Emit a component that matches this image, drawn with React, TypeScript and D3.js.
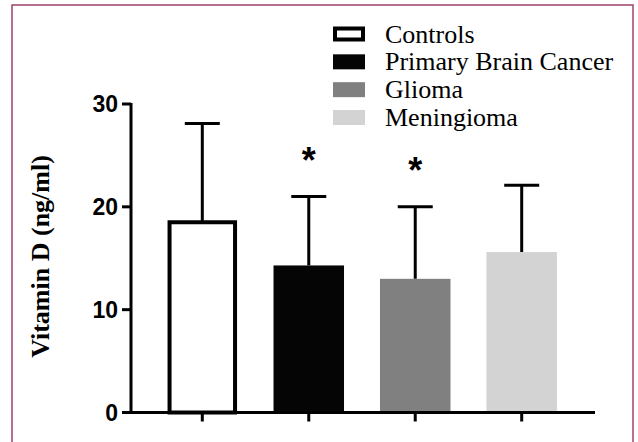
import React from "react";
import * as d3 from "d3";

const categories = ["Controls", "Primary Brain Cancer", "Glioma", "Meningioma"];
const means = [18.5, 14.3, 13.0, 15.6];
const sds = [9.6, 6.7, 7.0, 6.5];
const significant = [false, true, true, false];
const fills = ["#ffffff", "#050505", "#808080", "#d3d3d3"];
const yTicks = [0, 10, 20, 30];
const yLabel = "Vitamin D (ng/ml)";

const W = 638;
const H = 442;

export default function App() {
  const y = d3.scaleLinear().domain([0, 30]).range([412.5, 104]);
  const x = d3.scalePoint<string>().domain(categories).range([202.3, 521.7]);
  const barW = 70.5;
  const capW = 35;
  const axisX = 131;
  const axisEnd = 595;
  const legendY = d3.scalePoint<string>().domain(categories).range([34, 117.5]);

  return (
    <svg width={W} height={H} style={{ position: "absolute", left: 0, top: 0, display: "block", background: "#fff" }}>
      <rect x={12} y={5} width={621} height={470} fill="none" stroke="#a1426d" strokeWidth={1.5} />

      {/* bars */}
      {categories.map((c, i) => {
        const cx = x(c)!;
        const top = y(means[i]);
        const capY = y(means[i] + sds[i]);
        const isOutline = i === 0;
        return (
          <g key={c}>
            <line x1={cx} x2={cx} y1={top} y2={capY} stroke="#000" strokeWidth={3} />
            <line x1={cx - capW / 2} x2={cx + capW / 2} y1={capY} y2={capY} stroke="#000" strokeWidth={3} />
            {isOutline ? (
              <rect x={cx - barW / 2 + 2.5} y={top} width={barW - 5} height={y(0) - top} fill={fills[i]} stroke="#000" strokeWidth={4} />
            ) : (
              <rect x={cx - barW / 2} y={top} width={barW} height={y(0) - top} fill={fills[i]} />
            )}
            {significant[i] && (
              <text x={cx} y={capY - 24} textAnchor="middle" fontFamily="Liberation Sans, Arial, sans-serif" fontWeight="bold" fontSize={36}>*</text>
            )}
          </g>
        );
      })}

      {/* y axis */}
      <line x1={axisX} x2={axisX} y1={y(30) - 1} y2={y(0) + 1.5} stroke="#000" strokeWidth={3} />
      {yTicks.map((t) => (
        <g key={t}>
          <line x1={axisX - 9} x2={axisX} y1={y(t)} y2={y(t)} stroke="#000" strokeWidth={3} />
          <text x={118} y={y(t)} dy="0.36em" textAnchor="end" fontFamily="Liberation Sans, Arial, sans-serif" fontWeight="bold" fontSize={23}>{t}</text>
        </g>
      ))}
      {/* x axis */}
      <line x1={axisX - 1.5} x2={axisEnd} y1={y(0)} y2={y(0)} stroke="#000" strokeWidth={3} />
      {categories.map((c) => (
        <line key={c} x1={x(c)!} x2={x(c)!} y1={y(0)} y2={y(0) + 9} stroke="#000" strokeWidth={3} />
      ))}

      {/* y label */}
      <text transform={`translate(49,${(155 + 358) / 2}) rotate(-90)`} textAnchor="middle" fontFamily="Liberation Serif, Times New Roman, serif" fontWeight="bold" fontSize={26}>{yLabel}</text>

      {/* legend */}
      {categories.map((c, i) => {
        const cy = legendY(c)!;
        return (
          <g key={c}>
            {i === 0 ? (
              <rect x={335} y={cy - 5.5} width={28} height={11} fill="#fff" stroke="#000" strokeWidth={4} />
            ) : (
              <rect x={333} y={cy - 7.5} width={32} height={15} fill={fills[i]} />
            )}
            <text x={385} y={cy + 8.5} fontFamily="Liberation Serif, Times New Roman, serif" fontSize={26}>{c}</text>
          </g>
        );
      })}
    </svg>
  );
}
